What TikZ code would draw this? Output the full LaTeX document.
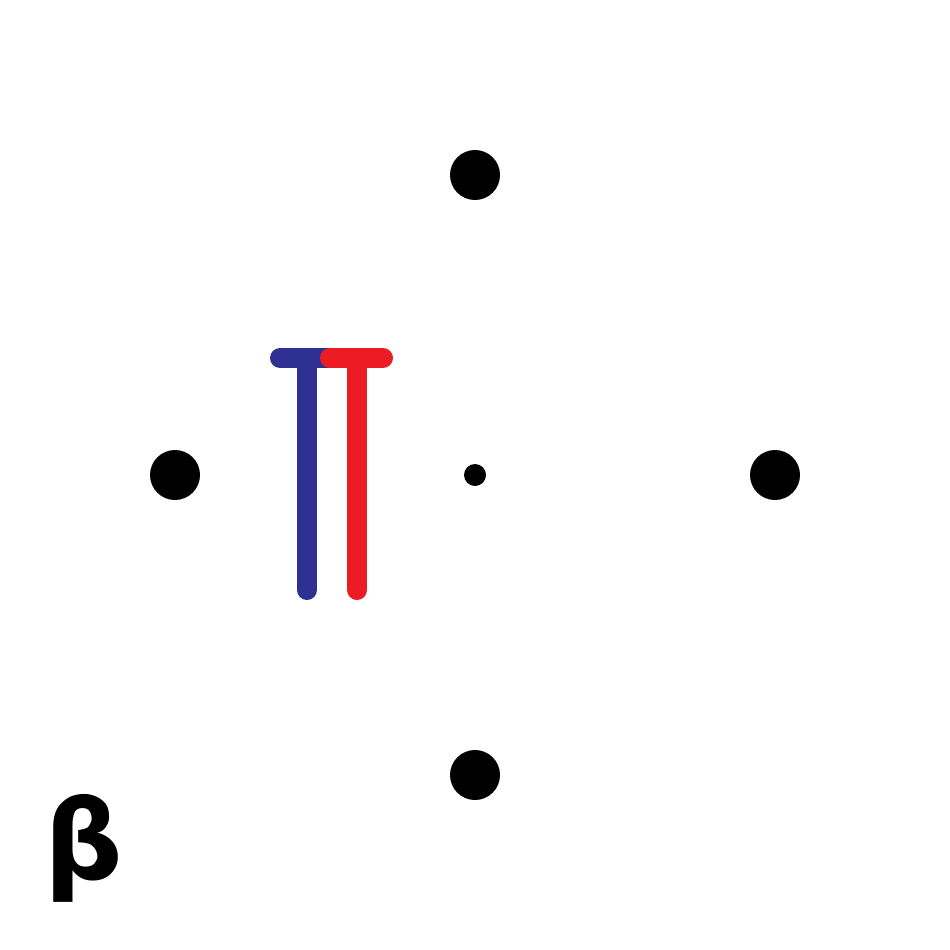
\documentclass[tikz,border=0pt]{standalone}
\usepackage{fontspec}
\newfontfamily\betafont{DejaVu Sans}
\definecolor{tblue}{HTML}{2E3192}
\definecolor{tred}{HTML}{ED1C24}
\begin{document}
\begin{tikzpicture}[x=1pt,y=-1pt,
  bigdot/.style={circle,fill=black,inner sep=0pt,minimum size=50pt},
  smalldot/.style={circle,fill=black,inner sep=0pt,minimum size=22pt},
  tbar/.style={line width=20pt,line cap=round}]
\useasboundingbox[fill=white] (0,0) rectangle (950,950);
\node[bigdot] (top) at (475,175) {};
\node[bigdot] (left) at (175,475) {};
\node[bigdot] (right) at (775,475) {};
\node[bigdot] (bottom) at (475,775) {};
\node[smalldot] (center) at (475,475) {};
\coordinate (bl) at (280,358);
\coordinate (br) at (330,358);
\coordinate (bt) at (307,358);
\coordinate (bb) at (307,590);
\coordinate (rl) at (330,358);
\coordinate (rr) at (383,358);
\coordinate (rt) at (357,358);
\coordinate (rb) at (357,590);
\draw[tbar,tblue] (bl) -- (br);
\draw[tbar,tblue] (bt) -- (bb);
\draw[tbar,tred] (rl) -- (rr);
\draw[tbar,tred] (rt) -- (rb);
\node[inner sep=0pt,font=\betafont\bfseries\fontsize{110}{110}\selectfont] (beta) at (84,848) {β};
\end{tikzpicture}
\end{document}
